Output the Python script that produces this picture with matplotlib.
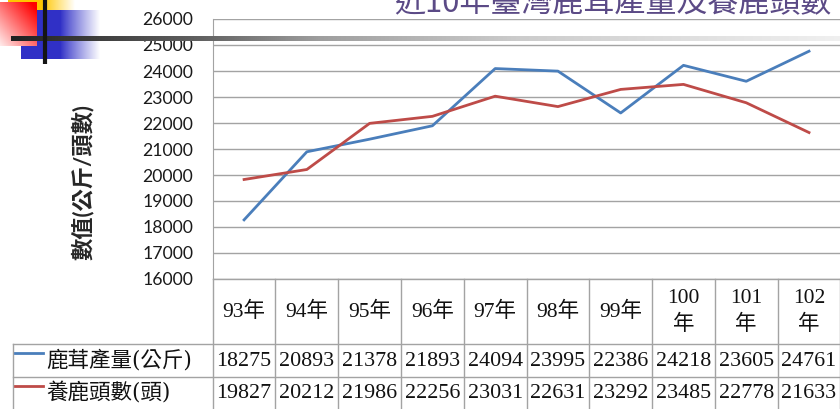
import numpy as np
import matplotlib
matplotlib.use('Agg')
import matplotlib.pyplot as plt

# ---------------- data ----------------
years = ['93年', '94年', '95年', '96年', '97年', '98年', '99年', '100年', '101年', '102年']
antler = [18275, 20893, 21378, 21893, 24094, 23995, 22386, 24218, 23605, 24761]
deer = [19827, 20212, 21986, 22256, 23031, 22631, 23292, 23485, 22778, 21633]
series_names = ['鹿茸產量(公斤)', '養鹿頭數(頭)']
title = '近10年臺灣鹿茸產量及養鹿頭數'
ylabel = '數值(公斤/頭數)'
yticks = list(range(16000, 26001, 1000))

# ---------------- layout ----------------
W, H = 840, 409
fig = plt.figure(figsize=(W / 100, H / 100), dpi=100)
fig.patch.set_facecolor('white')

PL, PR, PT, PB = 212.7, 840.4, 19, 279
BLUE, RED = '#4a7ebb', '#be4b48'
GRID = '#a3a3a3'
CJK = 'Noto Sans CJK TC'
TFONT = ['Liberation Serif', CJK]

ax = fig.add_axes([PL / W, 1 - PB / H, (PR - PL) / W, (PB - PT) / H])
x = np.arange(len(years))
ax.plot(x, antler, color=BLUE, lw=2.0, zorder=3)
ax.plot(x, deer, color=RED, lw=2.0, zorder=3)
ax.set_xlim(-0.5, len(years) - 0.5)
ax.set_ylim(yticks[0], yticks[-1])
ax.set_yticks(yticks)
ax.yaxis.grid(True, color=GRID, lw=1.0)
ax.set_axisbelow(True)
ax.set_xticks([])
for s in ['top', 'right', 'bottom']:
    ax.spines[s].set_visible(False)
ax.spines['left'].set_color(GRID)
ax.tick_params(axis='y', length=0, pad=14, labelsize=12.7, labelcolor='#1a1a1a',
               labelfontfamily='Lato')

# overlay in pixel coordinates
ov = fig.add_axes([0, 0, 1, 1], zorder=5)
ov.set_xlim(0, W)
ov.set_ylim(H, 0)
ov.axis('off')

# y label
ov.text(83, 182, ylabel, rotation=90, ha='center', va='center', fontsize=16,
        family=['Lato', CJK], weight='bold', color='#262626')

# ---------------- data table ----------------
n = len(years)
cw = (PR - PL) / n
edges = [PL + i * cw for i in range(n + 1)]
R1, R2, R3 = 344, 377, 410
for e in edges:
    ov.plot([e, e], [PB, R3], color=GRID, lw=1.0)
ov.plot([13, 13], [R1, R3], color=GRID, lw=1.0)
for yy in (R1, R2, R3):
    ov.plot([13, PR], [yy, yy], color=GRID, lw=1.0)
ov.plot([PL, PR], [PB, PB], color=GRID, lw=1.0)

for i, yr in enumerate(years):
    cx = (edges[i] + edges[i + 1]) / 2
    lab = yr if len(yr) <= 3 else yr[:-1] + '\n' + yr[-1]
    ov.text(cx, 312, lab, ha='center', va='center', fontsize=15.5, family=TFONT,
            color='#111111', linespacing=1.45)
    ov.text(cx, 361, str(antler[i]), ha='center', va='center', fontsize=15.8,
            family=TFONT, color='#111111')
    ov.text(cx, 394, str(deer[i]), ha='center', va='center', fontsize=15.8,
            family=TFONT, color='#111111')

for (name, col, yc) in ((series_names[0], BLUE, 360.5), (series_names[1], RED, 393.5)):
    ov.plot([15, 43], [yc - 8, yc - 8], color=col, lw=2.0)
    ov.text(46, yc, name, ha='left', va='center', fontsize=15.5,
            family=['DejaVu Serif', CJK], color='#111111')

# ---------------- slide decorations ----------------
def grad_img(x0, x1, y0, y1, func, z):
    nx, ny = max(int(x1 - x0), 2), max(int(y1 - y0), 2)
    xs = (np.arange(nx) + 0.5) / nx
    ys = (np.arange(ny) + 0.5) / ny
    X, Y = np.meshgrid(xs, ys)
    img = func(X, Y)
    ov.imshow(img, extent=(x0, x1, y1, y0), origin='upper', aspect='auto',
              interpolation='bilinear', zorder=z)

def yellow(X, Y):
    t = np.clip((X - 0.5) / 0.5, 0, 1)
    c0 = np.array([1.0, 0.78, 0.0])
    return c0[None, None, :] * (1 - t[..., None]) + np.ones(3)[None, None, :] * t[..., None]

def blue(X, Y):
    t = np.clip((X - 0.5) / 0.5, 0, 1) ** 0.9
    c0 = np.array([0.19, 0.19, 0.78])
    return c0[None, None, :] * (1 - t[..., None]) + np.ones(3)[None, None, :] * t[..., None]

def red(X, Y):
    t = np.clip(0.55 * X + 0.55 * (1 - Y), 0, 1)
    c1 = np.array([1.0, 0.0, 0.0])
    c0 = np.array([1.0, 0.93, 0.93])
    return c0[None, None, :] * (1 - t[..., None]) + c1[None, None, :] * t[..., None]

def bar(X, Y):
    g = np.interp(X * (W - 11) + 11, [11, 200, 320, 520, 840], [0.13, 0.38, 0.62, 0.8, 0.94])
    return np.stack([g, g, g], axis=-1)

grad_img(8, 75, 0, 10, yellow, 6)
grad_img(21, 100, 10, 59, blue, 7)
grad_img(0, 37, 2, 46, red, 8)
grad_img(11, 840, 36, 41, bar, 9)
ov.plot([45, 45], [0, 64], color='#151515', lw=3.0, zorder=10, solid_capstyle='butt')
ov.set_xlim(0, W)
ov.set_ylim(H, 0)

# title (cut off at the top of the image, as in the original slide)
ov.text(613, 11, title, ha='center', va='baseline', fontsize=22.3, family=CJK,
        weight='medium', color='#5b4a86', zorder=4)

fig.savefig('out.png', dpi=100, facecolor='white')
